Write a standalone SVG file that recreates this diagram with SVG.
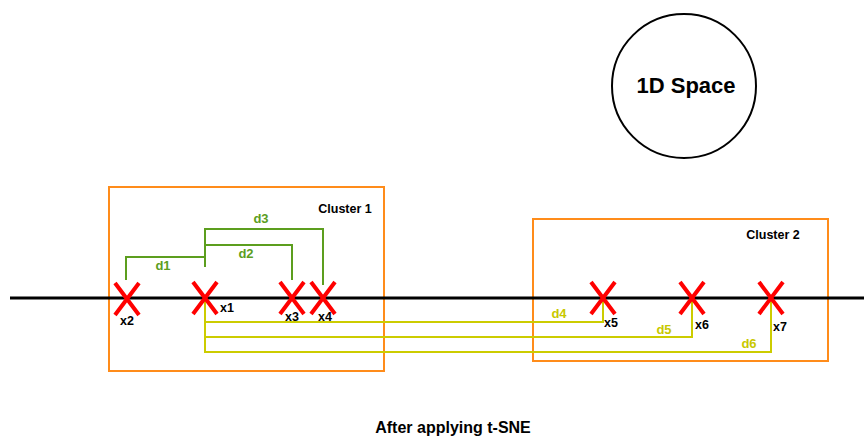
<svg xmlns="http://www.w3.org/2000/svg" width="864" height="439" viewBox="0 0 864 439">
<defs>
<style>
text{font-family:"Liberation Sans",Arial,sans-serif;font-weight:bold}
.lbl{font-size:12.5px;fill:#000;text-anchor:middle}
.g{fill:none;stroke:#5c9e1e;stroke-width:2}
.gt{font-size:13px;fill:#5c9e1e;text-anchor:middle}
.y{fill:none;stroke:#cccc00;stroke-width:2}
.yt{font-size:13px;fill:#c8c800;text-anchor:middle}
.box{fill:none;stroke:#ff8c1a;stroke-width:2}
.xm{stroke:#ff0000;stroke-width:4;fill:none}
</style>
<g id="xmark"><path class="xm" d="M-12,-16 L12,16 M12,-16 L-12,16"/></g>
</defs>
<rect width="864" height="439" fill="#fff"/>
<g id="space"><circle cx="684" cy="86" r="72" fill="none" stroke="#000" stroke-width="2"/><text x="686" y="93" font-size="22" text-anchor="middle">1D Space</text></g>
<g id="cluster1"><rect class="box" x="109" y="187" width="275" height="184"/><text x="345" y="213" font-size="12.5" text-anchor="middle">Cluster 1</text></g>
<g id="cluster2"><rect class="box" x="533" y="219" width="295" height="142"/><text x="773" y="239" font-size="12.5" text-anchor="middle">Cluster 2</text></g>
<g id="axis"><path d="M10,298 L864,298" stroke="#000" stroke-width="3"/></g>
<g id="connectors">
<path class="g" d="M126,280 V257 H205 V267"/>
<path class="g" d="M205,257 V229 H323 V285"/>
<path class="g" d="M205,245 H292 V280"/>
<path class="y" d="M205,298 V352 H771 V300"/>
<path class="y" d="M205,322 H603 V300"/>
<path class="y" d="M205,337 H692 V300"/>
<text class="gt" x="163" y="270">d1</text>
<text class="gt" x="246" y="258">d2</text>
<text class="gt" x="261" y="223">d3</text>
<text class="yt" x="559" y="318">d4</text>
<text class="yt" x="664" y="334">d5</text>
<text class="yt" x="749" y="348">d6</text>
</g>
<g id="x2"><use href="#xmark" x="127" y="299"/><text class="lbl" x="127" y="325">x2</text></g>
<g id="x1"><use href="#xmark" x="205" y="298"/><text class="lbl" x="227" y="312">x1</text></g>
<g id="x3"><use href="#xmark" x="292" y="298"/><text class="lbl" x="292" y="321">x3</text></g>
<g id="x4"><use href="#xmark" x="323" y="298"/><text class="lbl" x="325" y="321">x4</text></g>
<g id="x5"><use href="#xmark" x="603" y="298"/><text class="lbl" x="611" y="327">x5</text></g>
<g id="x6"><use href="#xmark" x="692" y="298"/><text class="lbl" x="702" y="329">x6</text></g>
<g id="x7"><use href="#xmark" x="771" y="298"/><text class="lbl" x="780" y="331">x7</text></g>
<g id="title"><text x="453" y="433" font-size="16" text-anchor="middle">After applying t-SNE</text></g>
</svg>
